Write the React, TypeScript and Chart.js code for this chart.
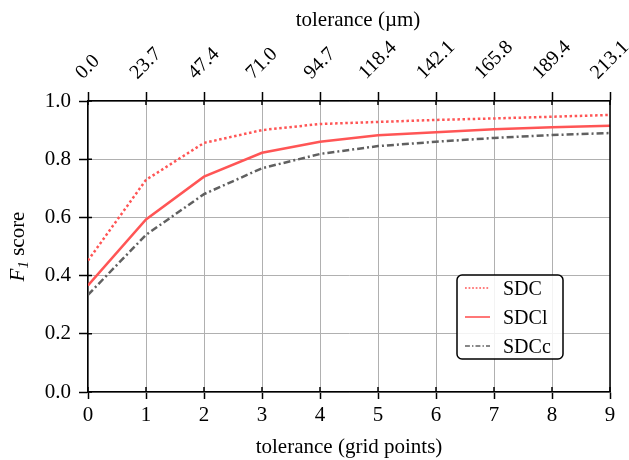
import React, { useEffect, useRef } from "react";
import { Chart, registerables } from "chart.js";

Chart.register(...registerables);

const gridPoints = [0, 1, 2, 3, 4, 5, 6, 7, 8, 9];
const micronLabels = ["0.0", "23.7", "47.4", "71.0", "94.7", "118.4", "142.1", "165.8", "189.4", "213.1"];
const sdc = [0.452, 0.729, 0.856, 0.9, 0.921, 0.928, 0.935, 0.94, 0.946, 0.952];
const sdcl = [0.366, 0.593, 0.74, 0.822, 0.86, 0.882, 0.893, 0.903, 0.91, 0.915];
const sdcc = [0.334, 0.54, 0.68, 0.769, 0.818, 0.845, 0.86, 0.873, 0.883, 0.89];
const yTicks = [0, 0.2, 0.4, 0.6, 0.8, 1.0];

const FONT = "'Liberation Serif', 'DejaVu Serif', serif";
const RED = "#ff5555";
const GREY = "#606060";

const legendPlugin = {
  id: "boxLegend",
  afterDraw(chart: any) {
    const { ctx, chartArea } = chart;
    const w = 106, h = 84;
    const x = chartArea.right - 47 - w;
    const y = chartArea.bottom - 33 - h;
    ctx.save();
    ctx.beginPath();
    ctx.roundRect(x, y, w, h, 5);
    ctx.fillStyle = "rgba(255,255,255,0.85)";
    ctx.fill();
    ctx.lineWidth = 1.5;
    ctx.strokeStyle = "#000";
    ctx.stroke();
    ctx.font = `20px ${FONT}`;
    ctx.textBaseline = "alphabetic";
    ctx.fillStyle = "#000";
    chart.data.datasets.forEach((ds: any, i: number) => {
      const ry = y + 13 + i * 29;
      ctx.beginPath();
      ctx.setLineDash(ds.borderDash ? ds.borderDash.map((d: number) => d * 0.7) : []);
      ctx.lineWidth = 1.6;
      ctx.strokeStyle = ds.borderColor;
      ctx.moveTo(x + 8, ry);
      ctx.lineTo(x + 33, ry);
      ctx.stroke();
      ctx.setLineDash([]);
      ctx.fillText(ds.label, x + 46, ry + 7);
    });
    ctx.restore();
  },
};

const decorPlugin = {
  id: "decor",
  afterDraw(chart: any) {
    const { ctx, chartArea, scales } = chart;
    ctx.save();
    // right spine
    ctx.strokeStyle = "#000";
    ctx.lineWidth = 1.5;
    ctx.beginPath();
    ctx.moveTo(chartArea.right, chartArea.top);
    ctx.lineTo(chartArea.right, chartArea.bottom);
    ctx.stroke();
    // inward tick parts
    ctx.beginPath();
    gridPoints.forEach((g) => {
      const px = scales.x.getPixelForValue(g);
      ctx.moveTo(px, chartArea.bottom);
      ctx.lineTo(px, chartArea.bottom - 5);
      ctx.moveTo(px, chartArea.top);
      ctx.lineTo(px, chartArea.top + 4);
    });
    yTicks.forEach((v) => {
      const py = scales.y.getPixelForValue(v);
      ctx.moveTo(chartArea.left, py);
      ctx.lineTo(chartArea.left + 4, py);
    });
    ctx.stroke();

    // top axis labels, rotated 45 degrees and centred on their ticks
    ctx.fillStyle = "#000";
    ctx.font = `20px ${FONT}`;
    ctx.textAlign = "center";
    ctx.textBaseline = "alphabetic";
    const capH = 13;
    micronLabels.forEach((lab, i) => {
      const px = scales.x2.getPixelForValue(gridPoints[i]);
      const tw = ctx.measureText(lab).width - 2;
      const side = (tw + capH) / Math.SQRT2;
      const cx = px - 1;
      const cy = 79 - side / 2;
      ctx.save();
      ctx.translate(cx, cy);
      ctx.rotate(-Math.PI / 4);
      ctx.fillText(lab, 0, capH / 2);
      ctx.restore();
    });

    // top axis title
    ctx.font = `21px ${FONT}`;
    ctx.textAlign = "center";
    ctx.fillText("tolerance (µm)", 358, 26);

    // y axis title: F1 score with italic F and subscript 1
    const cyT = (chartArea.top + chartArea.bottom) / 2;
    ctx.translate(24, cyT);
    ctx.rotate(-Math.PI / 2);
    ctx.textAlign = "left";
    const fMain = `italic 21px ${FONT}`;
    const fSub = `italic 15px ${FONT}`;
    const fRest = `21px ${FONT}`;
    ctx.font = fMain;
    const wF = ctx.measureText("F").width;
    ctx.font = fSub;
    const w1 = ctx.measureText("1").width;
    ctx.font = fRest;
    const wR = ctx.measureText(" score").width;
    let sx = -(wF + w1 + wR) / 2;
    ctx.font = fMain;
    ctx.fillText("F", sx, 0);
    sx += wF;
    ctx.font = fSub;
    ctx.fillText("1", sx, 4);
    sx += w1;
    ctx.font = fRest;
    ctx.fillText(" score", sx, 0);
    ctx.restore();
  },
};

export default function App() {
  const ref = useRef<HTMLCanvasElement | null>(null);
  useEffect(() => {
    document.body.style.margin = "0";
    const mk = (vals: number[]) => gridPoints.map((g, i) => ({ x: g, y: vals[i] }));
    const chart = new Chart(ref.current as HTMLCanvasElement, {
      type: "line",
      data: {
        datasets: [
          { label: "SDC", data: mk(sdc), borderColor: RED, borderWidth: 2.5, borderDash: [2.5, 2.6], pointRadius: 0, fill: false, tension: 0 },
          { label: "SDCl", data: mk(sdcl), borderColor: RED, borderWidth: 2.5, pointRadius: 0, fill: false, tension: 0 },
          { label: "SDCc", data: mk(sdcc), borderColor: GREY, borderWidth: 2.5, borderDash: [7, 3, 2, 3], pointRadius: 0, fill: false, tension: 0 },
        ],
      },
      options: {
        animation: false,
        responsive: false,
        maintainAspectRatio: false,
        layout: { padding: { left: 0, right: 19, top: 0, bottom: 0 } },
        plugins: { legend: { display: false }, tooltip: { enabled: false } },
        scales: {
          x: {
            type: "linear",
            position: "bottom",
            min: 0,
            max: 9,
            afterBuildTicks: (s: any) => { s.ticks = gridPoints.map((v) => ({ value: v })); },
            afterFit: (s: any) => { s.height = 68; },
            ticks: { color: "#000", font: { family: FONT, size: 21 }, padding: 4, maxRotation: 0, autoSkip: false },
            grid: { color: "#b0b0b0", lineWidth: 1, tickColor: "#000", tickLength: 7, tickWidth: 1.5 },
            border: { color: "#000", width: 1.5 },
            title: { display: true, text: "tolerance (grid points)", color: "#000", font: { family: FONT, size: 21 }, padding: { top: 0, bottom: 0 } },
          },
          x2: {
            type: "linear",
            position: "top",
            min: 0,
            max: 9,
            afterBuildTicks: (s: any) => { s.ticks = gridPoints.map((v) => ({ value: v })); },
            afterFit: (s: any) => { s.height = 101; },
            ticks: { display: false },
            grid: { drawOnChartArea: false, tickColor: "#000", tickLength: 9, tickWidth: 1.5 },
            border: { color: "#000", width: 1.5 },
          },
          y: {
            type: "linear",
            min: 0,
            max: 1,
            afterBuildTicks: (s: any) => { s.ticks = yTicks.map((v) => ({ value: v })); },
            afterFit: (s: any) => { s.width = 88; },
            ticks: { color: "#000", font: { family: FONT, size: 21 }, padding: 8, callback: (v: any) => Number(v).toFixed(1) },
            grid: { color: "#b0b0b0", lineWidth: 1, tickColor: "#000", tickLength: 9, tickWidth: 1.5 },
            border: { color: "#000", width: 1.5 },
          },
        },
      },
      plugins: [legendPlugin, decorPlugin],
    });
    return () => chart.destroy();
  }, []);
  return (
    <div style={{ position: "relative", width: 629, height: 460 }}>
      <canvas ref={ref} width={629} height={460} style={{ display: "block", width: 629, height: 460 }} />
    </div>
  );
}
